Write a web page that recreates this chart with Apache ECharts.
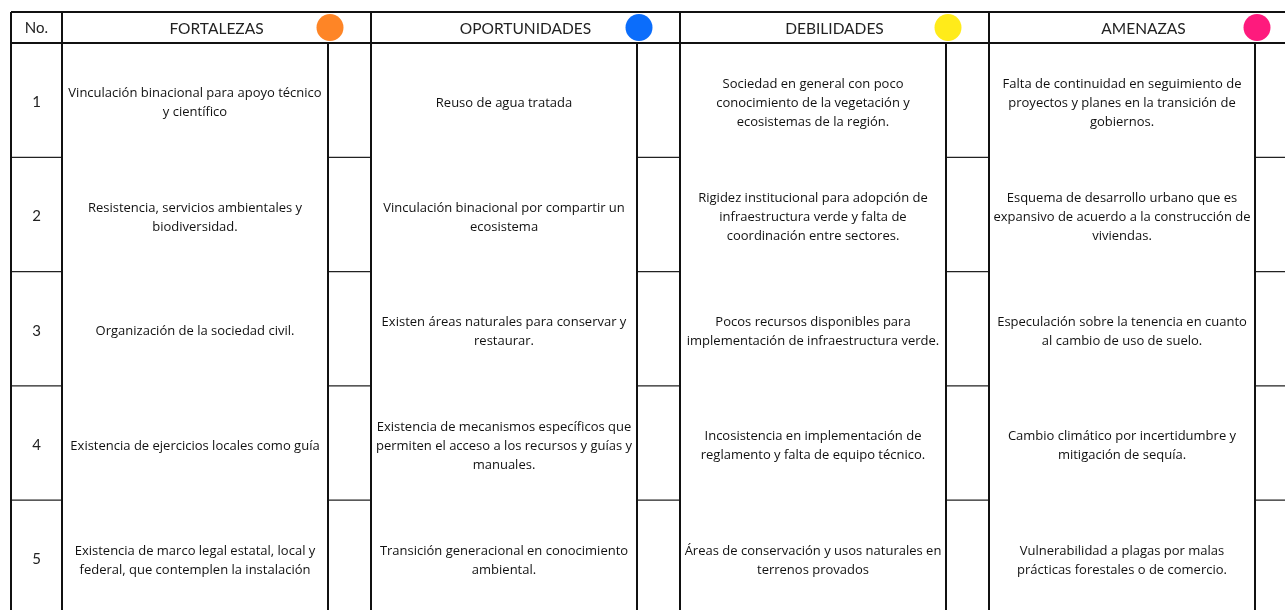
<!DOCTYPE html>
<html>
<head>
<meta charset="utf-8">
<script src="https://cdn.jsdelivr.net/npm/echarts@6/dist/echarts.min.js"></script>
<style>
html,body{margin:0;padding:0;background:#fff;}
#chart{width:1285px;height:610px;}
</style>
</head>
<body>
<div id="chart"></div>
<script>
// ---- data ----
const categories = ['FORTALEZAS', 'OPORTUNIDADES', 'DEBILIDADES', 'AMENAZAS'];
const rowNumbers = ['1', '2', '3', '4', '5'];
const numberHeader = 'No.';
const fortalezas = [
  'Vinculación binacional para apoyo técnico\ny científico',
  'Resistencia, servicios ambientales y\nbiodiversidad.',
  'Organización de la sociedad civil.',
  'Existencia de ejercicios locales como guía',
  'Existencia de marco legal estatal, local y\nfederal, que contemplen la instalación'
];
const oportunidades = [
  'Reuso de agua tratada',
  'Vinculación binacional por compartir un\necosistema',
  'Existen áreas naturales para conservar y\nrestaurar.',
  'Existencia de mecanismos específicos que\npermiten el acceso a los recursos y guías y\nmanuales.',
  'Transición generacional en conocimiento\nambiental.'
];
const debilidades = [
  'Sociedad en general con poco\nconocimiento de la vegetación y\necosistemas de la región.',
  'Rigidez institucional para adopción de\ninfraestructura verde y falta de\ncoordinación entre sectores.',
  'Pocos recursos disponibles para\nimplementación de infraestructura verde.',
  'Incosistencia en implementación de\nreglamento y falta de equipo técnico.',
  'Áreas de conservación y usos naturales en\nterrenos provados'
];
const amenazas = [
  'Falta de continuidad en seguimiento de\nproyectos y planes en la transición de\ngobiernos.',
  'Esquema de desarrollo urbano que es\nexpansivo de acuerdo a la construcción de\nviviendas.',
  'Especulación sobre la tenencia en cuanto\nal cambio de uso de suelo.',
  'Cambio climático por incertidumbre y\nmitigación de sequía.',
  'Vulnerabilidad a plagas por malas\nprácticas forestales o de comercio.'
];
const columnTexts = [fortalezas, oportunidades, debilidades, amenazas];

// ---- layout (table units = px) ----
const colors = ['#FE8526', '#0B6DFB', '#FFEB1A', '#FE1A7D'];
const NO_W = 51, TEXT_W = 266, SMALL_W = 43, HEAD_H = 31, ROW_H = 114.3;
const BLOCK_W = TEXT_W + SMALL_W;
const TABLE_W = NO_W + BLOCK_W * categories.length;
const TABLE_H = HEAD_H + ROW_H * rowNumbers.length;
const VIEW_W = 1274, VIEW_H = 598;

// line segments
const thickLines = [];
const thinLines = [];
thickLines.push([0, 0, TABLE_W, 0]);
thickLines.push([0, HEAD_H, TABLE_W, HEAD_H]);
thickLines.push([0, 0, 0, TABLE_H]);
thickLines.push([NO_W, 0, NO_W, TABLE_H]);
categories.forEach((c, i) => {
  const x0 = NO_W + i * BLOCK_W;
  thickLines.push([x0 + TEXT_W, HEAD_H, x0 + TEXT_W, TABLE_H]);
  thickLines.push([x0 + BLOCK_W, 0, x0 + BLOCK_W, TABLE_H]);
});
for (let r = 1; r < rowNumbers.length; r++) {
  const y = HEAD_H + r * ROW_H;
  thinLines.push([0, y, NO_W, y]);
  categories.forEach((c, i) => {
    const x0 = NO_W + i * BLOCK_W + TEXT_W;
    thinLines.push([x0, y, x0 + SMALL_W, y]);
  });
}

const cells = [];
columnTexts.forEach((arr, c) => arr.forEach((t, r) => cells.push([c, r])));

const bodyFont = '"Open Sans", "Noto Sans", sans-serif';
const headFont = 'Lato, "Noto Sans", sans-serif';

function lineRender(width, color) {
  return function (params, api) {
    const p1 = api.coord([api.value(0), api.value(1)]);
    const p2 = api.coord([api.value(2), api.value(3)]);
    return {
      type: 'line',
      shape: { x1: p1[0], y1: p1[1], x2: p2[0], y2: p2[1] },
      style: { stroke: color, lineWidth: width }
    };
  };
}

const chart = echarts.init(document.getElementById('chart'), null, { renderer: 'canvas' });
chart.setOption({
  backgroundColor: '#ffffff',
  animation: false,
  grid: { left: 11, top: 12, width: VIEW_W, height: VIEW_H, containLabel: false },
  xAxis: { type: 'value', min: 0, max: VIEW_W, show: false },
  yAxis: { type: 'value', min: 0, max: VIEW_H, inverse: true, show: false },
  series: [
    {
      type: 'custom', name: 'thin', data: thinLines, clip: false,
      renderItem: lineRender(1.3, '#222')
    },
    {
      type: 'custom', name: 'thick', data: thickLines, clip: false,
      renderItem: lineRender(2, '#111')
    },
    {
      type: 'custom', name: 'header', data: categories.map((c, i) => [i]), clip: false,
      renderItem: function (params, api) {
        const i = params.dataIndex;
        const x0 = NO_W + i * BLOCK_W;
        const center = api.coord([x0 + BLOCK_W / 2, HEAD_H / 2]);
        const dot = api.coord([x0 + TEXT_W + 2, HEAD_H / 2]);
        return {
          type: 'group',
          children: [
            {
              type: 'text',
              style: {
                text: categories[i], x: center[0], y: center[1] + 1,
                align: 'center', verticalAlign: 'middle',
                fontFamily: headFont, fontSize: 15.5, fill: '#222'
              }
            },
            {
              type: 'circle',
              shape: { cx: dot[0], cy: dot[1], r: 13.5 },
              style: { fill: colors[i] }
            }
          ]
        };
      }
    },
    {
      type: 'custom', name: 'numbers', data: [[-1]].concat(rowNumbers.map((n, r) => [r])), clip: false,
      renderItem: function (params, api) {
        const r = params.dataIndex - 1;
        const isHead = r < 0;
        const y = isHead ? HEAD_H / 2 : HEAD_H + (r + 0.5) * ROW_H;
        const p = api.coord([NO_W / 2, y]);
        return {
          type: 'text',
          style: {
            text: isHead ? numberHeader : rowNumbers[r], x: p[0], y: p[1] + (isHead ? 1 : 2),
            align: 'center', verticalAlign: 'middle',
            fontFamily: headFont, fontSize: 15, fill: '#222'
          }
        };
      }
    },
    {
      type: 'custom', name: 'cells', data: cells, clip: false,
      renderItem: function (params, api) {
        const c = api.value(0), r = api.value(1);
        const p = api.coord([NO_W + c * BLOCK_W + TEXT_W / 2, HEAD_H + (r + 0.5) * ROW_H]);
        return {
          type: 'text',
          style: {
            text: columnTexts[c][r], x: p[0], y: p[1] + 3,
            align: 'center', verticalAlign: 'middle',
            fontFamily: bodyFont, fontSize: 13, lineHeight: 19, fill: '#111'
          }
        };
      }
    }
  ]
});
</script>
</body>
</html>
